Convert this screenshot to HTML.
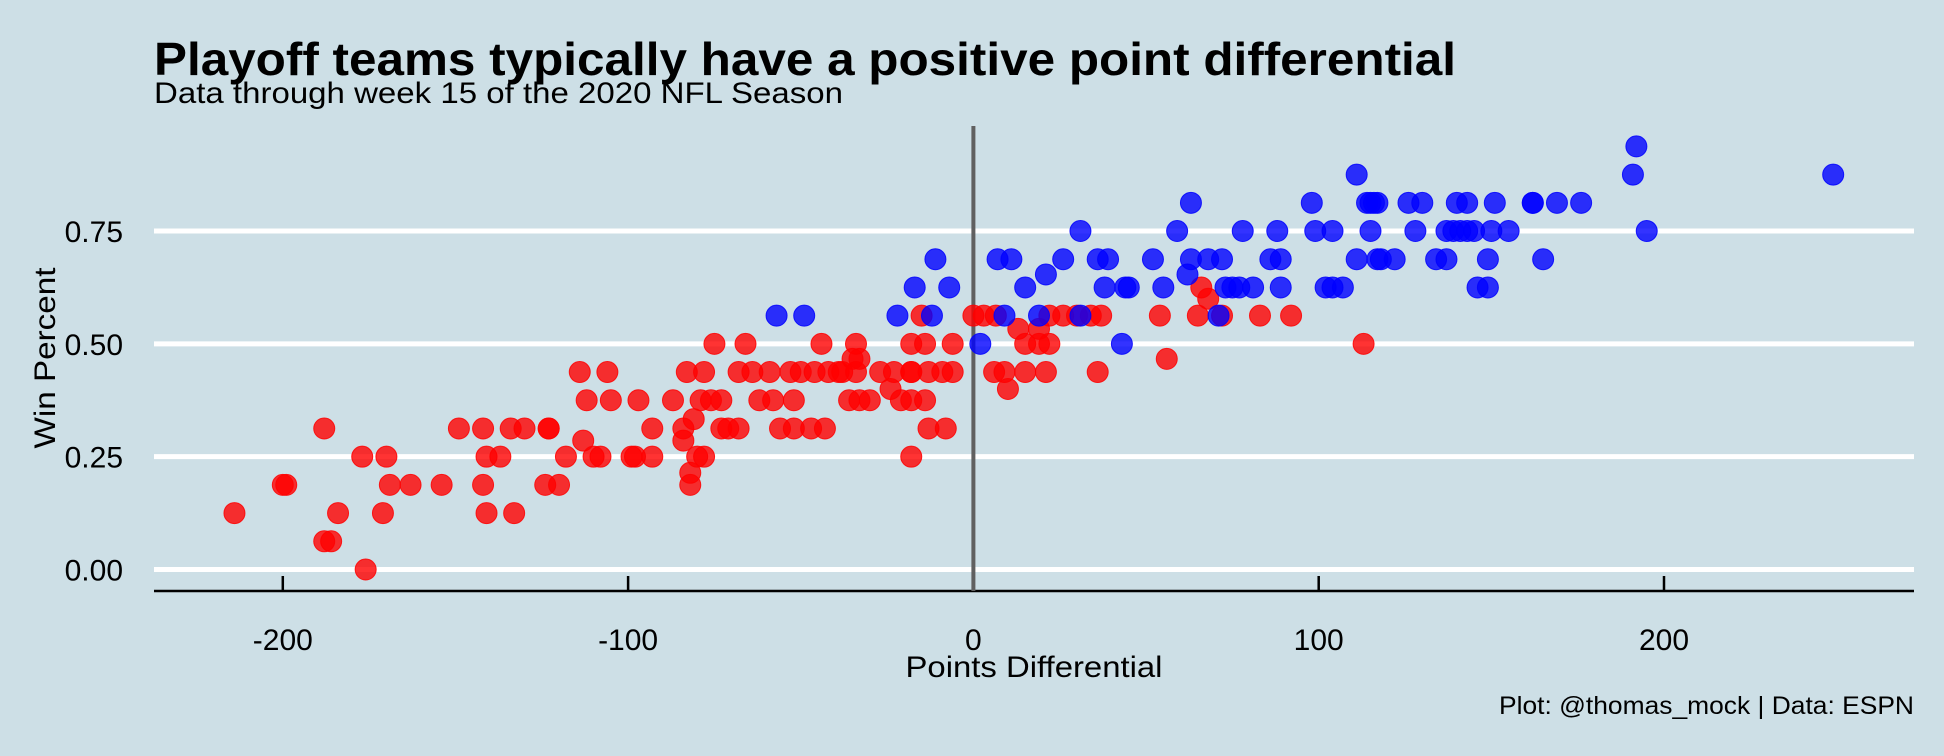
<!DOCTYPE html>
<html><head><meta charset="utf-8"><style>
html,body{margin:0;padding:0;background:#cddfe6;}
svg{display:block;font-family:"Liberation Sans",Arial,sans-serif;}
</style></head><body>
<svg id="chart" width="1944" height="756" viewBox="0 0 1944 756">
<rect x="0" y="0" width="1944" height="756" fill="#cddfe6"/>
<text x="154" y="75" font-size="46" font-weight="bold" textLength="1302" lengthAdjust="spacingAndGlyphs">Playoff teams typically have a positive point differential</text>
<text x="154" y="103" font-size="30" textLength="689" lengthAdjust="spacingAndGlyphs">Data through week 15 of the 2020 NFL Season</text>
<g id="grid"></g>
<g id="yticks"></g>
<g id="xticks"></g>
<line x1="154" y1="591" x2="1914" y2="591" stroke="#000" stroke-width="2.5"/>
<line id="zeroline" x1="973" y1="126" x2="973" y2="591" stroke="#606060" stroke-width="4"/>
<g id="pts"></g>
<text x="45" y="358" font-size="30" text-anchor="middle" transform="rotate(-90 45 358)" textLength="181" lengthAdjust="spacingAndGlyphs" dy="10">Win Percent</text>
<text x="1034" y="677" font-size="30" text-anchor="middle" textLength="257" lengthAdjust="spacingAndGlyphs">Points Differential</text>
<text x="1914" y="714" font-size="25" text-anchor="end" textLength="415" lengthAdjust="spacingAndGlyphs">Plot: @thomas_mock | Data: ESPN</text>
</svg>
<script>
const xTicks = [-200, -100, 0, 100, 200];
const yTicks = [0, 0.25, 0.5, 0.75];
const yTickLabels = ["0.00", "0.25", "0.50", "0.75"];
const redX = [-214,-184,-171,-141,-133,-200,-199,-169,-163,-154,-142,-124,-120,-188,-186,-176,
-188,-149,-142,-134,-130,-123,-123,-93,-84,-73,-71,-68,-56,-52,-47,-43,-13,-8,
-177,-170,-141,-137,-118,-110,-108,-99,-98,-93,-80,-78,-18,-113,-84,-82,-82,-81,
-112,-105,-97,-87,-79,-76,-73,-62,-58,-52,-36,-33,-30,-21,-18,-14,-24,
-114,-106,-83,-78,-68,-64,-59,-53,-50,-46,-42,-39,-38,-34,-27,-23,-18,-18,-13,-9,-6,-35,-33,
-75,-66,-44,-34,-18,-14,-6,-15,
0,3,6.5,22,26,30,34,37,54,65,72,83,92,13,19,15,19,22,113,56,6,9,15,21,36,10,66,68];
const redY = [0.125,0.125,0.125,0.125,0.125,0.1875,0.1875,0.1875,0.1875,0.1875,0.1875,0.1875,0.1875,0.0625,0.0625,0,
0.3125,0.3125,0.3125,0.3125,0.3125,0.3125,0.3125,0.3125,0.3125,0.3125,0.3125,0.3125,0.3125,0.3125,0.3125,0.3125,0.3125,0.3125,
0.25,0.25,0.25,0.25,0.25,0.25,0.25,0.25,0.25,0.25,0.25,0.25,0.25,0.2857,0.2857,0.2143,0.1875,0.3333,
0.375,0.375,0.375,0.375,0.375,0.375,0.375,0.375,0.375,0.375,0.375,0.375,0.375,0.375,0.375,0.375,0.4,
0.4375,0.4375,0.4375,0.4375,0.4375,0.4375,0.4375,0.4375,0.4375,0.4375,0.4375,0.4375,0.4375,0.4375,0.4375,0.4375,0.4375,0.4375,0.4375,0.4375,0.4375,0.4667,0.4667,
0.5,0.5,0.5,0.5,0.5,0.5,0.5,0.5625,
0.5625,0.5625,0.5625,0.5625,0.5625,0.5625,0.5625,0.5625,0.5625,0.5625,0.5625,0.5625,0.5625,0.5333,0.5333,0.5,0.5,0.5,0.5,0.4667,0.4375,0.4375,0.4375,0.4375,0.4375,0.4,0.625,0.6];
const blueX = [-57,-49,-22,-12,-17,-7,-11,2,43,9,19,31,71,
15,38,44,45,55,73,75,77,81,89,102,104,107,21,62,
7,11,26,36,39,52,63,68,72,86,89,111,117,
31,59,78,88,99,104,115,63,98,115,116,111,
114,117,126,130,140,143,151,162,162,169,176,
128,137,139,141,143,145,150,155,195,118,122,134,137,149,165,146,149,191,249,192];
const blueY = [0.5625,0.5625,0.5625,0.5625,0.625,0.625,0.6875,0.5,0.5,0.5625,0.5625,0.5625,0.5625,
0.625,0.625,0.625,0.625,0.625,0.625,0.625,0.625,0.625,0.625,0.625,0.625,0.625,0.6538,0.6538,
0.6875,0.6875,0.6875,0.6875,0.6875,0.6875,0.6875,0.6875,0.6875,0.6875,0.6875,0.6875,0.6875,
0.75,0.75,0.75,0.75,0.75,0.75,0.75,0.8125,0.8125,0.8125,0.8125,0.875,
0.8125,0.8125,0.8125,0.8125,0.8125,0.8125,0.8125,0.8125,0.8125,0.8125,0.8125,
0.75,0.75,0.75,0.75,0.75,0.75,0.75,0.75,0.75,0.6875,0.6875,0.6875,0.6875,0.6875,0.6875,0.625,0.625,0.875,0.875,0.9375];

const NS = "http://www.w3.org/2000/svg";
const sx = v => 973.4 + v * 3.453;
const sy = v => 569.5 - v * 451.3;

const grid = document.getElementById('grid');
const yt = document.getElementById('yticks');
yTicks.forEach((t, i) => {
  const l = document.createElementNS(NS, 'line');
  l.setAttribute('x1', 154); l.setAttribute('x2', 1914);
  l.setAttribute('y1', sy(t)); l.setAttribute('y2', sy(t));
  l.setAttribute('stroke', '#fff'); l.setAttribute('stroke-width', 5);
  
  
  grid.appendChild(l);
  const tx = document.createElementNS(NS, 'text');
  tx.setAttribute('x', 123); tx.setAttribute('y', sy(t) + 11);
  tx.setAttribute('font-size', 30); tx.setAttribute('text-anchor', 'end');
  tx.textContent = yTickLabels[i];
  
  
  yt.appendChild(tx);
});
const xt = document.getElementById('xticks');
xTicks.forEach(t => {
  const l = document.createElementNS(NS, 'line');
  l.setAttribute('x1', sx(t)); l.setAttribute('x2', sx(t));
  l.setAttribute('y1', 576); l.setAttribute('y2', 591);
  l.setAttribute('stroke', '#000'); l.setAttribute('stroke-width', 2.5);
  
  
  xt.appendChild(l);
  const tx = document.createElementNS(NS, 'text');
  tx.setAttribute('x', sx(t)); tx.setAttribute('y', 650);
  tx.setAttribute('font-size', 30); tx.setAttribute('text-anchor', 'middle');
  tx.textContent = String(t);
  
  
  xt.appendChild(tx);
});
document.getElementById('zeroline').setAttribute('x1', sx(0));
document.getElementById('zeroline').setAttribute('x2', sx(0));

const pts = document.getElementById('pts');
function drawSeries(xs, ys, color, name) {
  xs.forEach((x, i) => {
    const c = document.createElementNS(NS, 'circle');
    c.setAttribute('cx', sx(x)); c.setAttribute('cy', sy(ys[i]));
    c.setAttribute('r', 10.5);
    c.setAttribute('fill', color); c.setAttribute('fill-opacity', 0.8);
    c.setAttribute('stroke', color); c.setAttribute('stroke-opacity', 0.85); c.setAttribute('stroke-width', 1);
    
    
    pts.appendChild(c);
  });
}
drawSeries(redX, redY, '#ff0000', 'non-playoff-team-point');
drawSeries(blueX, blueY, '#0000ff', 'playoff-team-point');
</script>
</body></html>
